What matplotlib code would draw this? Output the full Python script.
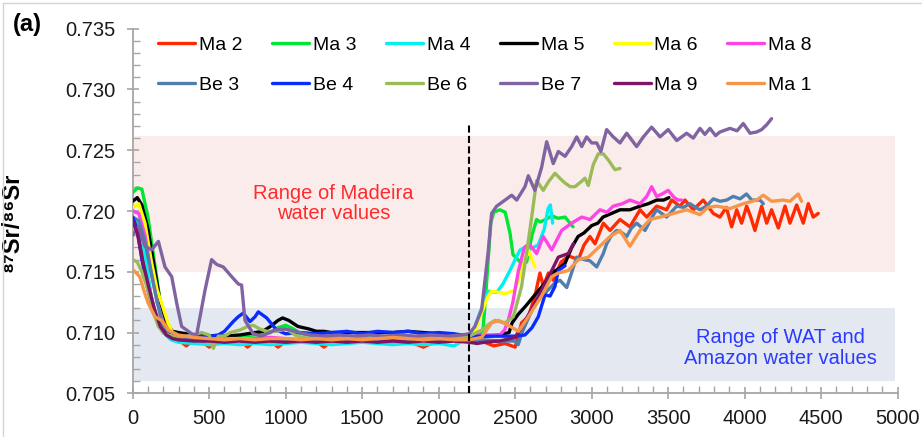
import numpy as np
import matplotlib
matplotlib.use("Agg")
import matplotlib.pyplot as plt
from matplotlib.lines import Line2D

plt.rcParams['font.family'] = ['Liberation Sans', 'DejaVu Sans']

# (x, 87Sr/86Sr), one list per sample
ma2 = [(0, 0.7192), (40, 0.7185), (80, 0.7160), (120, 0.7130), (160, 0.7110), (200, 0.7100), (250, 0.7096),
       (300, 0.7094), (350, 0.7089), (400, 0.7094), (450, 0.7093), (500, 0.7088), (550, 0.7094), (600, 0.7092),
       (650, 0.7093), (700, 0.7094), (750, 0.7088), (800, 0.7093), (850, 0.7094), (900, 0.7093), (950, 0.7088),
       (1000, 0.7093), (1100, 0.7094), (1200, 0.7093), (1250, 0.7088), (1300, 0.7093), (1400, 0.7094),
       (1500, 0.7093), (1600, 0.7092), (1700, 0.7094), (1800, 0.7093), (1900, 0.7088), (2000, 0.7094),
       (2100, 0.7093), (2200, 0.7094), (2300, 0.7092), (2360, 0.7089), (2434, 0.7091), (2500, 0.7088),
       (2542, 0.7108), (2586, 0.7113), (2629, 0.7130), (2662, 0.7149), (2684, 0.7138), (2717, 0.7149),
       (2749, 0.7143), (2800, 0.7158), (2850, 0.7163), (2913, 0.7160), (2950, 0.7172), (2989, 0.7179),
       (3022, 0.7173), (3076, 0.7190), (3120, 0.7184), (3185, 0.7193), (3250, 0.7187), (3316, 0.7201),
       (3360, 0.7195), (3425, 0.7204), (3490, 0.7201), (3523, 0.7209), (3577, 0.7204), (3610, 0.7209),
       (3664, 0.7201), (3729, 0.7209), (3795, 0.7198), (3838, 0.7195), (3880, 0.7203), (3915, 0.7187),
       (3948, 0.7201), (3980, 0.7190), (4013, 0.7204), (4040, 0.7195), (4067, 0.7184), (4111, 0.7204),
       (4144, 0.7190), (4176, 0.7201), (4220, 0.7186), (4264, 0.7204), (4296, 0.7190), (4340, 0.7205),
       (4383, 0.7190), (4416, 0.7206), (4448, 0.7195), (4481, 0.7198)]

ma3 = [(0, 0.7215), (30, 0.7219), (60, 0.7218), (100, 0.7195), (140, 0.7160), (180, 0.7125), (220, 0.7104),
       (260, 0.7097), (300, 0.7096), (400, 0.7095), (500, 0.7096), (600, 0.7095), (700, 0.7097), (800, 0.7098),
       (900, 0.7100), (950, 0.7104), (1000, 0.7106), (1050, 0.7103), (1100, 0.7099), (1200, 0.7097),
       (1300, 0.7096), (1400, 0.7095), (1500, 0.7096), (1600, 0.7095), (1700, 0.7096), (1800, 0.7095),
       (1900, 0.7095), (2000, 0.7096), (2100, 0.7095), (2200, 0.7096), (2260, 0.7098), (2290, 0.7102),
       (2310, 0.7135), (2340, 0.7190), (2360, 0.7199), (2400, 0.7201), (2435, 0.7199), (2466, 0.7182),
       (2486, 0.7164), (2542, 0.7157), (2575, 0.7158), (2610, 0.7180), (2640, 0.7193), (2662, 0.7191),
       (2700, 0.7193), (2740, 0.7196), (2780, 0.7194), (2826, 0.7195), (2878, 0.7187)]

ma4 = [(0, 0.7195), (40, 0.7190), (80, 0.7165), (120, 0.7130), (160, 0.7110), (200, 0.7100), (250, 0.7094),
       (300, 0.7092), (400, 0.7091), (500, 0.7090), (600, 0.7091), (700, 0.7090), (800, 0.7091), (900, 0.7090),
       (1000, 0.7091), (1100, 0.7092), (1200, 0.7091), (1300, 0.7090), (1400, 0.7091), (1500, 0.7092),
       (1600, 0.7091), (1700, 0.7090), (1800, 0.7091), (1900, 0.7090), (2000, 0.7091), (2100, 0.7089),
       (2180, 0.7095), (2237, 0.7105), (2280, 0.7120), (2325, 0.7134), (2379, 0.7133), (2420, 0.7140),
       (2466, 0.7151), (2500, 0.7160), (2532, 0.7168), (2564, 0.7170), (2600, 0.7169), (2650, 0.7172),
       (2690, 0.7185), (2715, 0.7202), (2730, 0.7205), (2745, 0.7190)]

ma5 = [(0, 0.7208), (30, 0.7211), (60, 0.7205), (100, 0.7185), (140, 0.7155), (180, 0.7125), (220, 0.7108),
       (260, 0.7101), (300, 0.7100), (350, 0.7099), (400, 0.7098), (500, 0.7097), (600, 0.7097), (700, 0.7098),
       (800, 0.7100), (850, 0.7101), (900, 0.7105), (950, 0.7110), (980, 0.7112), (1020, 0.7110),
       (1080, 0.7105), (1150, 0.7103), (1200, 0.7101), (1250, 0.7101), (1300, 0.7100), (1400, 0.7100),
       (1500, 0.7100), (1600, 0.7100), (1700, 0.7100), (1800, 0.7101), (1900, 0.7100), (2000, 0.7099),
       (2100, 0.7098), (2200, 0.7097), (2300, 0.7097), (2400, 0.7098), (2460, 0.7100), (2480, 0.7108),
       (2520, 0.7115), (2570, 0.7122), (2629, 0.7131), (2690, 0.7140), (2739, 0.7149), (2790, 0.7153),
       (2826, 0.7157), (2870, 0.7170), (2911, 0.7179), (2950, 0.7182), (3000, 0.7188), (3040, 0.7190),
       (3074, 0.7195), (3130, 0.7198), (3185, 0.7201), (3250, 0.7201), (3316, 0.7204), (3370, 0.7206),
       (3425, 0.7209), (3470, 0.7209), (3505, 0.7211)]

ma6 = [(0, 0.7203), (40, 0.7206), (80, 0.7190), (120, 0.7160), (160, 0.7135), (200, 0.7120), (230, 0.7108),
       (260, 0.7100), (300, 0.7097), (400, 0.7095), (500, 0.7094), (600, 0.7095), (700, 0.7095), (800, 0.7094),
       (900, 0.7095), (1000, 0.7095), (1100, 0.7094), (1200, 0.7095), (1300, 0.7095), (1400, 0.7094),
       (1500, 0.7095), (1600, 0.7095), (1700, 0.7094), (1800, 0.7095), (1900, 0.7094), (2000, 0.7095),
       (2100, 0.7094), (2200, 0.7094), (2226, 0.7096), (2270, 0.7113), (2324, 0.7130), (2346, 0.7134),
       (2400, 0.7133), (2434, 0.7132), (2499, 0.7135), (2542, 0.7151), (2570, 0.7162), (2590, 0.7167),
       (2610, 0.7160), (2630, 0.7154)]

ma8 = [(0, 0.7200), (40, 0.7198), (80, 0.7180), (120, 0.7150), (160, 0.7125), (200, 0.7108), (250, 0.7099),
       (300, 0.7096), (400, 0.7095), (500, 0.7096), (600, 0.7095), (700, 0.7094), (800, 0.7095), (900, 0.7096),
       (1000, 0.7095), (1100, 0.7094), (1200, 0.7095), (1300, 0.7096), (1400, 0.7095), (1500, 0.7094),
       (1600, 0.7096), (1700, 0.7095), (1800, 0.7096), (1900, 0.7097), (2000, 0.7098), (2100, 0.7096),
       (2200, 0.7097), (2300, 0.7098), (2400, 0.7098), (2430, 0.7102), (2455, 0.7110), (2485, 0.7125),
       (2520, 0.7150), (2560, 0.7170), (2590, 0.7173), (2640, 0.7165), (2684, 0.7179), (2739, 0.7168),
       (2804, 0.7184), (2869, 0.7190), (2935, 0.7195), (2989, 0.7193), (3054, 0.7201), (3100, 0.7199),
       (3141, 0.7204), (3200, 0.7206), (3250, 0.7209), (3316, 0.7206), (3360, 0.7212), (3392, 0.7220),
       (3425, 0.7212), (3460, 0.7214), (3500, 0.7217), (3540, 0.7211), (3566, 0.7209), (3588, 0.7209)]

be3 = [(0, 0.7195), (40, 0.7192), (80, 0.7175), (120, 0.7150), (160, 0.7125), (200, 0.7105), (250, 0.7097),
       (300, 0.7094), (400, 0.7094), (500, 0.7093), (600, 0.7094), (700, 0.7094), (800, 0.7093), (900, 0.7094),
       (1000, 0.7094), (1100, 0.7093), (1200, 0.7094), (1300, 0.7094), (1400, 0.7093), (1500, 0.7094),
       (1600, 0.7094), (1700, 0.7093), (1800, 0.7094), (1900, 0.7094), (2000, 0.7093), (2100, 0.7094),
       (2200, 0.7094), (2300, 0.7094), (2400, 0.7093), (2500, 0.7093), (2520, 0.7090), (2545, 0.7100),
       (2580, 0.7110), (2629, 0.7124), (2700, 0.7133), (2760, 0.7141), (2793, 0.7143), (2837, 0.7137),
       (2902, 0.7162), (2950, 0.7160), (2989, 0.7159), (3033, 0.7154), (3076, 0.7165), (3098, 0.7173),
       (3130, 0.7180), (3163, 0.7184), (3200, 0.7182), (3229, 0.7179), (3260, 0.7186), (3294, 0.7190),
       (3349, 0.7184), (3390, 0.7194), (3425, 0.7201), (3490, 0.7195), (3556, 0.7204), (3600, 0.7203),
       (3642, 0.7206), (3707, 0.7201), (3750, 0.7204), (3795, 0.7210), (3840, 0.7208), (3882, 0.7209),
       (3925, 0.7212), (3970, 0.7210), (4012, 0.7214), (4046, 0.7209), (4100, 0.7209), (4122, 0.7206)]

be4 = [(0, 0.7195), (30, 0.7185), (60, 0.7160), (100, 0.7135), (140, 0.7115), (180, 0.7104), (220, 0.7099),
       (260, 0.7097), (300, 0.7097), (400, 0.7097), (500, 0.7097), (560, 0.7098), (600, 0.7101), (657, 0.7109),
       (690, 0.7113), (723, 0.7116), (767, 0.7109), (800, 0.7113), (821, 0.7117), (876, 0.7112), (941, 0.7102),
       (1000, 0.7099), (1100, 0.7100), (1200, 0.7099), (1300, 0.7100), (1400, 0.7101), (1500, 0.7099),
       (1600, 0.7101), (1700, 0.7100), (1800, 0.7101), (1900, 0.7099), (2000, 0.7100), (2100, 0.7099),
       (2200, 0.7097), (2300, 0.7097), (2400, 0.7097), (2500, 0.7097), (2564, 0.7098), (2610, 0.7104),
       (2651, 0.7113), (2695, 0.7131), (2728, 0.7130), (2760, 0.7138), (2782, 0.7151), (2826, 0.7155)]

be6 = [(0, 0.7160), (30, 0.7158), (60, 0.7150), (100, 0.7135), (146, 0.7113), (168, 0.7105), (200, 0.7100),
       (233, 0.7098), (300, 0.7096), (350, 0.7097), (400, 0.7098), (450, 0.7100), (500, 0.7098), (527, 0.7087),
       (560, 0.7097), (600, 0.7097), (638, 0.7100), (700, 0.7102), (750, 0.7105), (788, 0.7106), (830, 0.7103),
       (876, 0.7101), (940, 0.7101), (1006, 0.7103), (1060, 0.7098), (1100, 0.7096), (1200, 0.7095),
       (1300, 0.7095), (1400, 0.7096), (1500, 0.7095), (1600, 0.7095), (1700, 0.7096), (1800, 0.7095),
       (1900, 0.7095), (2000, 0.7096), (2100, 0.7095), (2200, 0.7097), (2281, 0.7102), (2330, 0.7107),
       (2368, 0.7110), (2400, 0.7109), (2434, 0.7108), (2488, 0.7113), (2542, 0.7138), (2580, 0.7170),
       (2608, 0.7195), (2640, 0.7225), (2684, 0.7217), (2717, 0.7224), (2760, 0.7231), (2800, 0.7226),
       (2826, 0.7223), (2860, 0.7220), (2891, 0.7220), (2930, 0.7224), (2956, 0.7227), (2978, 0.7221),
       (3010, 0.7238), (3043, 0.7247), (3076, 0.7247), (3109, 0.7242), (3152, 0.7234), (3185, 0.7235)]

be7 = [(0, 0.7180), (37, 0.7187), (80, 0.7171), (124, 0.7168), (168, 0.7175), (211, 0.7154), (255, 0.7146),
       (288, 0.7124), (320, 0.7105), (386, 0.7099), (418, 0.7098), (473, 0.7135), (516, 0.7160), (549, 0.7156),
       (592, 0.7154), (647, 0.7146), (690, 0.7140), (712, 0.7139), (734, 0.7110), (788, 0.7099), (843, 0.7097),
       (930, 0.7102), (995, 0.7103), (1060, 0.7101), (1159, 0.7098), (1250, 0.7097), (1350, 0.7098),
       (1450, 0.7097), (1550, 0.7098), (1650, 0.7097), (1750, 0.7098), (1850, 0.7097), (1950, 0.7098),
       (2050, 0.7097), (2150, 0.7098), (2200, 0.7099), (2237, 0.7105), (2281, 0.7119), (2325, 0.7168),
       (2346, 0.7198), (2379, 0.7204), (2434, 0.7209), (2477, 0.7213), (2510, 0.7209), (2564, 0.7220),
       (2586, 0.7229), (2629, 0.7217), (2673, 0.7236), (2706, 0.7257), (2749, 0.7239), (2782, 0.7249),
       (2826, 0.7245), (2869, 0.7253), (2902, 0.7261), (2935, 0.7253), (2967, 0.7261), (3000, 0.7256),
       (3033, 0.7256), (3060, 0.7249), (3098, 0.7267), (3141, 0.7261), (3185, 0.7256), (3229, 0.7264),
       (3294, 0.7253), (3338, 0.7261), (3392, 0.7269), (3447, 0.7261), (3500, 0.7267), (3556, 0.7258),
       (3621, 0.7264), (3664, 0.7260), (3708, 0.7268), (3740, 0.7263), (3773, 0.7268), (3810, 0.7262),
       (3838, 0.7265), (3904, 0.7268), (3950, 0.7266), (3991, 0.7272), (4035, 0.7264), (4078, 0.7265),
       (4111, 0.7267), (4144, 0.7271), (4176, 0.7276)]

ma9 = [(0, 0.7192), (30, 0.7182), (60, 0.7162), (100, 0.7140), (140, 0.7120), (180, 0.7105), (220, 0.7098),
       (260, 0.7095), (300, 0.7094), (400, 0.7093), (500, 0.7093), (600, 0.7092), (700, 0.7093), (800, 0.7092),
       (900, 0.7093), (1000, 0.7092), (1100, 0.7093), (1200, 0.7092), (1300, 0.7093), (1400, 0.7092),
       (1500, 0.7093), (1600, 0.7092), (1700, 0.7093), (1800, 0.7092), (1900, 0.7093), (2000, 0.7092),
       (2100, 0.7093), (2200, 0.7092), (2250, 0.7091), (2300, 0.7092), (2400, 0.7093), (2500, 0.7096),
       (2542, 0.7105), (2608, 0.7119), (2673, 0.7135), (2739, 0.7151), (2782, 0.7162), (2847, 0.7165),
       (2880, 0.7173)]

ma1 = [(0, 0.7152), (46, 0.7146), (80, 0.7132), (102, 0.7124), (146, 0.7113), (190, 0.7110), (233, 0.7102),
       (298, 0.7098), (400, 0.7096), (500, 0.7095), (600, 0.7094), (700, 0.7095), (800, 0.7094), (900, 0.7095),
       (1000, 0.7095), (1100, 0.7094), (1200, 0.7095), (1300, 0.7094), (1400, 0.7095), (1500, 0.7094),
       (1600, 0.7095), (1700, 0.7096), (1800, 0.7095), (1900, 0.7094), (2000, 0.7095), (2100, 0.7094),
       (2200, 0.7094), (2281, 0.7096), (2346, 0.7108), (2390, 0.7110), (2455, 0.7106), (2521, 0.7101),
       (2586, 0.7113), (2673, 0.7130), (2739, 0.7146), (2782, 0.7149), (2847, 0.7151), (2913, 0.7160),
       (2978, 0.7162), (3054, 0.7171), (3120, 0.7179), (3185, 0.7184), (3250, 0.7171), (3316, 0.7184),
       (3381, 0.7193), (3447, 0.7195), (3534, 0.7198), (3621, 0.7201), (3708, 0.7197), (3760, 0.7203),
       (3817, 0.7204), (3904, 0.7202), (3991, 0.7206), (4078, 0.7209), (4122, 0.7213), (4176, 0.7208),
       (4252, 0.7209), (4296, 0.7208), (4350, 0.7214), (4372, 0.7208)]

names = ['Ma 2', 'Ma 3', 'Ma 4', 'Ma 5', 'Ma 6', 'Ma 8', 'Be 3', 'Be 4', 'Be 6', 'Be 7', 'Ma 9', 'Ma 1']
series = [ma2, ma3, ma4, ma5, ma6, ma8, be3, be4, be6, be7, ma9, ma1]
colors = ['#FF2A00', '#00E633', '#00F0F0', '#000000', '#FFFF00', '#FF44E6',
          '#4F7FAF', '#0A2BFF', '#9BBB59', '#8064A2', '#7E1466', '#F79646']

madeira_range = (0.715, 0.7262)
wat_range = (0.706, 0.712)
boundary_x = 2200

fig = plt.figure(figsize=(9.22, 4.37), dpi=100)
ax = fig.add_axes([0.1439, 0.1000, 0.8297, 0.8343])

ax.fill_between([0, 4985], *madeira_range, color='#FBECEC', lw=0, zorder=0)
ax.fill_between([0, 4985], *wat_range, color='#E4E9F1', lw=0, zorder=0)

handles = []
for name, pts, c in zip(names, series, colors):
    xy = np.array(pts)
    h, = ax.plot(xy[:, 0], xy[:, 1], color=c, lw=2.4, label=name,
                 solid_joinstyle='round', solid_capstyle='round', zorder=3)
    handles.append(h)

ax.plot([boundary_x, boundary_x], [0.705, 0.7272], color='black', lw=1.5,
        dashes=(3.4, 1.6), zorder=4)

ax.text(1314, 0.7206, 'Range of Madeira\nwater values', color='#FF2B2B',
        fontsize=14.5, ha='center', va='center', linespacing=1.1)
ax.text(4231, 0.70873, 'Range of WAT and\nAmazon water values', color='#2A3BFF',
        fontsize=14.5, ha='center', va='center', linespacing=1.1)

ax.set_xlim(0, 5000)
ax.set_ylim(0.705, 0.735)
ax.set_xticks(np.arange(0, 5001, 500))
ax.set_xticks(np.arange(0, 5001, 100), minor=True)
ax.set_yticks(np.arange(0.705, 0.7351, 0.005))
ax.set_yticks(np.arange(0.705, 0.7351, 0.001), minor=True)
ax.yaxis.set_major_formatter(plt.FormatStrFormatter('%.3f'))

for s in ['top', 'right']:
    ax.spines[s].set_visible(False)
for s in ['left', 'bottom']:
    ax.spines[s].set_color('#A6A6A6')
    ax.spines[s].set_linewidth(1.3)
ax.tick_params(which='major', direction='inout', length=9, width=1.2, color='#A6A6A6',
               labelsize=14.5, labelcolor='#1A1A1A')
ax.tick_params(axis='y', which='major', pad=8)
ax.tick_params(axis='x', which='major', pad=7)
ax.tick_params(which='minor', direction='in', length=5, width=1.0, color='#A6A6A6')

ax.set_ylabel('\u2078\u2077Sr/\u2078\u2076Sr', fontsize=17, fontweight='bold',
              family=['Liberation Sans', 'DejaVu Sans'])
ax.yaxis.set_label_coords(-0.143, 0.47)

# legend fills column-wise, so interleave to get the two rows
order = [0, 6, 1, 7, 2, 8, 3, 9, 4, 10, 5, 11]
ax.legend([handles[i] for i in order], [names[i] for i in order], ncol=6,
          loc='upper left', bbox_to_anchor=(0.033, 0.98), borderaxespad=0, borderpad=0,
          frameon=False, fontsize=14, handlelength=1.9, handletextpad=0.2,
          columnspacing=1.52, labelspacing=1.15)

fig.text(0.030, 0.945, '(a)', fontweight='bold', fontsize=17, ha='center', va='center')

fig.add_artist(Line2D([3 / 922, 3 / 922], [0, 1 - 3 / 437], transform=fig.transFigure,
                      color='#D4D4D4', lw=1))
fig.add_artist(Line2D([3 / 922, 1], [1 - 3 / 437, 1 - 3 / 437], transform=fig.transFigure,
                      color='#D4D4D4', lw=1))

fig.savefig('out.png', dpi=100)
